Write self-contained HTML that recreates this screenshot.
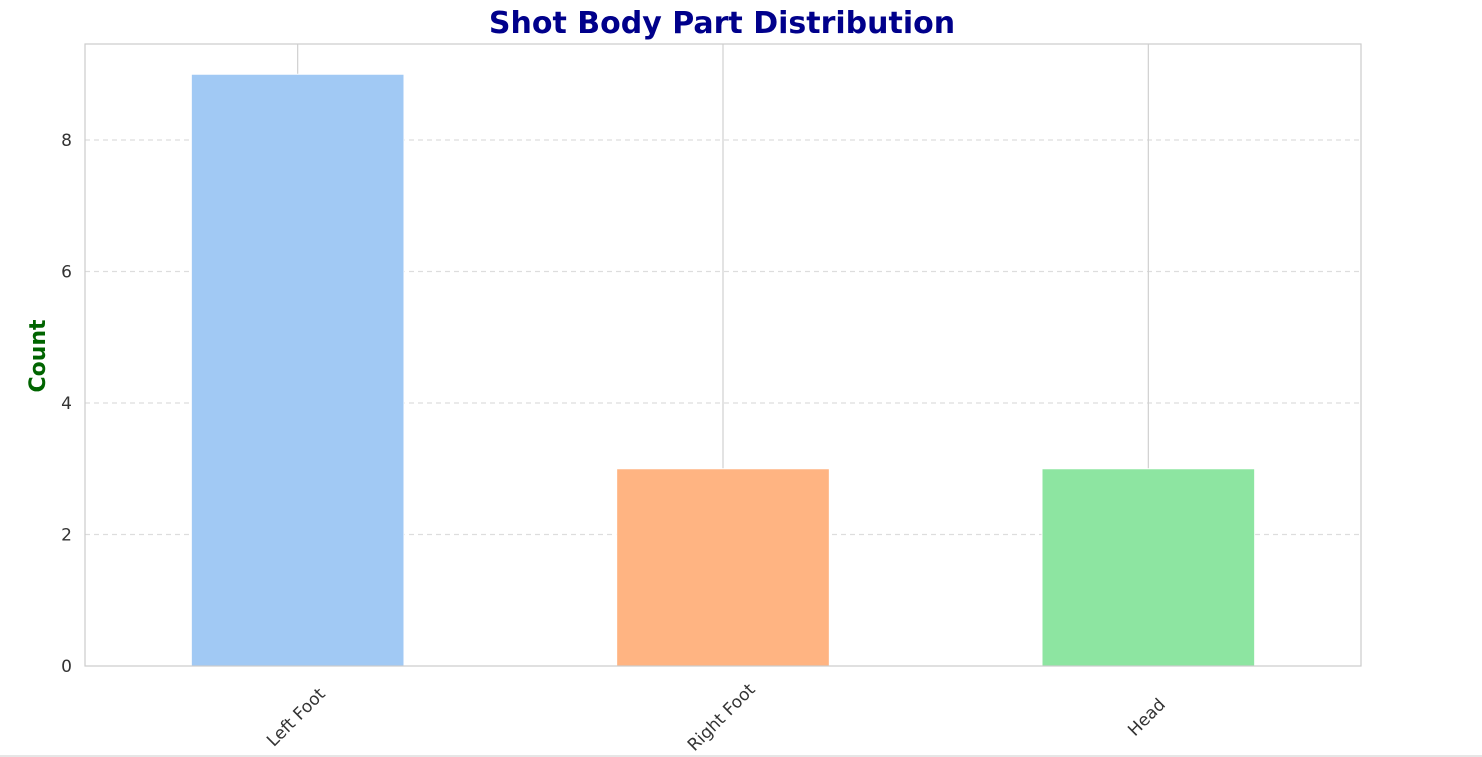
<!DOCTYPE html>
<html><head><meta charset="utf-8"><style>
html,body{margin:0;padding:0;background:#fff;}
svg{display:block;font-family:"DejaVu Sans","Liberation Sans",sans-serif;}
</style></head><body>
<svg id="chart" width="1482" height="757">
<text x="722" y="33" text-anchor="middle" font-size="30" font-weight="bold" fill="#00008b">Shot Body Part Distribution</text>
<text transform="translate(45,356) rotate(-90)" text-anchor="middle" font-size="22" font-weight="bold" fill="#006400">Count</text>
<g id="grid"></g><g id="bars"></g><g id="ticks"></g>
<rect x="85" y="44" width="1276" height="622" fill="none" stroke="#cccccc" stroke-width="1.2"/>
<line x1="0" y1="756" x2="1482" y2="756" stroke="#cccccc" stroke-width="1"/>
</svg>
<script>
const categories = ["Left Foot","Right Foot","Head"];
const counts = [9,3,3];
const colors = ["#a1c9f4","#ffb482","#8de5a1"];
const yTicks = [0,2,4,6,8];
const NS="http://www.w3.org/2000/svg";
const L=85,R=1361,T=44,B=666,yMax=9.46;
const xs=i=>L+(i+0.5)*(R-L)/categories.length;
const ys=v=>B-v*(B-T)/yMax;
const bw=0.5*(R-L)/categories.length;
function mk(tag,attrs,parent){const e=document.createElementNS(NS,tag);for(const k in attrs)e.setAttribute(k,attrs[k]);document.getElementById(parent).appendChild(e);return e;}
yTicks.forEach(t=>{
  if(t>0){const g=mk('line',{x1:L,x2:R,y1:ys(t),y2:ys(t),stroke:'#dddddd','stroke-width':1.2,'stroke-dasharray':'5,4'},'grid');
  
  }
  const tx=mk('text',{x:L-13,y:ys(t)+6,'text-anchor':'end','font-size':17,fill:'#333'},'ticks');
  tx.textContent=t;
  
  
});
categories.forEach((c,i)=>{
  const g=mk('line',{x1:xs(i),x2:xs(i),y1:T,y2:B,stroke:'#d0d0d0','stroke-width':1.2},'grid');
  
  
  const b=mk('rect',{x:xs(i)-bw/2,y:ys(counts[i]),width:bw,height:B-ys(counts[i]),fill:colors[i],stroke:'#fff','stroke-width':1},'bars');
  
  
  const cx=xs(i)-2,cy=B+51;
  const tx=mk('text',{x:cx,y:cy+6,'text-anchor':'middle','font-size':17,fill:'#333',transform:`rotate(-45 ${cx} ${cy})`},'ticks');
  tx.textContent=c;
  
  
});
</script>
</body></html>
